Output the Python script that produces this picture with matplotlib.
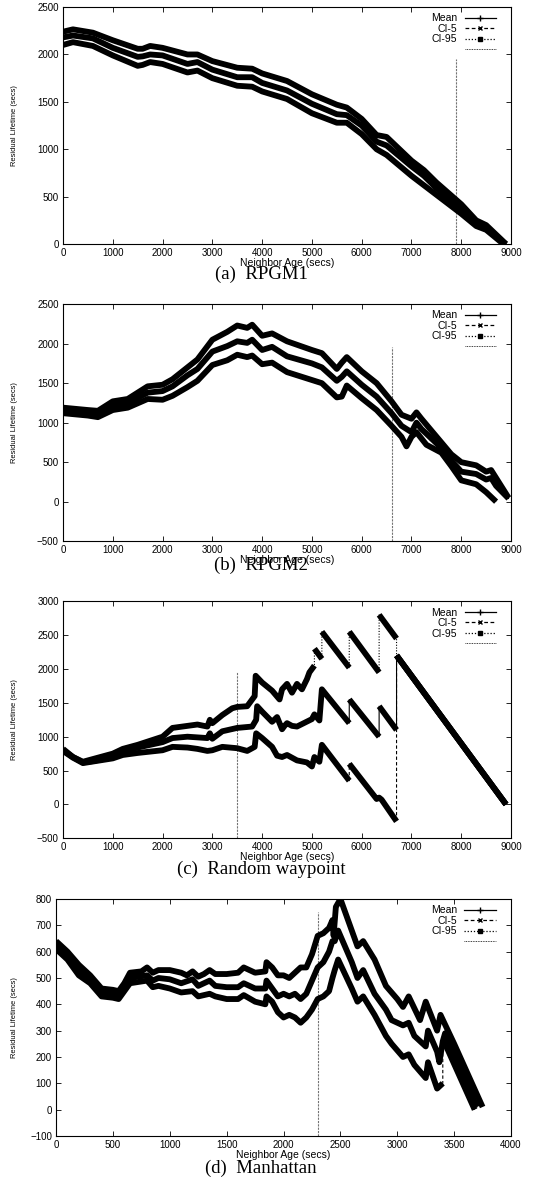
import numpy as np
from matplotlib import pyplot as plt

# ---- (a) RPGM1 ----
a_x_hi = [0, 200, 600, 1000, 1500, 1600, 1750, 2000, 2500, 2700, 3000, 3500, 3800, 4000, 4500, 5000, 5500, 5700, 6000, 6300, 6500, 7000, 7250, 7500, 8000, 8300, 8500, 8800, 8900]
a_y_hi = [2240, 2265, 2230, 2150, 2060, 2060, 2090, 2070, 2000, 2000, 1930, 1860, 1850, 1800, 1720, 1580, 1470, 1440, 1320, 1150, 1130, 880, 780, 650, 420, 250, 200, 50, 0]
a_x_mid = a_x_hi
a_y_mid = [2180, 2200, 2170, 2070, 1975, 1980, 2000, 1990, 1900, 1920, 1840, 1760, 1760, 1700, 1620, 1480, 1370, 1360, 1250, 1080, 1040, 820, 720, 590, 370, 220, 170, 30, 0]
a_x_lo = a_x_hi
a_y_lo = [2100, 2130, 2090, 1990, 1880, 1890, 1920, 1900, 1810, 1830, 1750, 1670, 1660, 1610, 1530, 1380, 1280, 1280, 1160, 1000, 940, 720, 620, 520, 320, 190, 150, 20, 0]
a_vline = 7900

# ---- (b) RPGM2 ----
b_x_hi = [0, 500, 700, 1000, 1300, 1700, 2000, 2200, 2500, 2700, 3000, 3300, 3500, 3700, 3800, 4000, 4200, 4500, 5000, 5200, 5500, 5600, 5700, 6000, 6300, 6600, 6800, 7000, 7100, 7200, 7400, 7600, 7800, 8000, 8300, 8500, 8600, 8700, 8950]
b_y_hi = [1190, 1160, 1150, 1270, 1300, 1460, 1480, 1550, 1700, 1800, 2050, 2150, 2230, 2200, 2240, 2100, 2130, 2030, 1920, 1880, 1680, 1760, 1830, 1650, 1500, 1270, 1100, 1050, 1130, 1050, 900, 750, 600, 500, 460, 380, 400, 300, 50]
b_x_mid = b_x_hi
b_y_mid = [1160, 1120, 1110, 1220, 1250, 1380, 1400, 1460, 1600, 1680, 1900, 1970, 2030, 2010, 2050, 1920, 1960, 1840, 1750, 1700, 1530, 1580, 1650, 1480, 1330, 1120, 960, 880, 1000, 920, 800, 680, 520, 380, 350, 280, 300, 200, 40]
b_x_lo = [0, 500, 700, 1000, 1300, 1700, 2000, 2200, 2500, 2700, 3000, 3300, 3500, 3700, 3800, 4000, 4200, 4500, 5000, 5200, 5500, 5600, 5700, 6000, 6300, 6600, 6800, 6900, 7000, 7100, 7200, 7300, 7600, 7800, 8000, 8300, 8500, 8700]
b_y_lo = [1120, 1090, 1070, 1160, 1190, 1300, 1290, 1340, 1450, 1530, 1730, 1790, 1860, 1830, 1850, 1740, 1760, 1640, 1540, 1500, 1320, 1330, 1470, 1310, 1160, 960, 820, 700, 820, 880, 800, 720, 620, 450, 270, 220, 120, 0]
b_vline = 6600

# ---- (c) Random waypoint ----
c_x_hi = [0, 200, 400, 1000, 1200, 1500, 2000, 2200, 2500, 2700, 2900, 2950, 3000, 3200, 3400, 3500, 3700, 3850, 3870, 4000, 4200, 4350, 4400, 4500, 4600, 4700, 4800, 4900, 4950, 5050, 5050, 5200, 5200, 5750, 5750, 6350, 6350, 6700, 6700, 8900]
c_y_hi = [820, 700, 630, 750, 820, 880, 1000, 1130, 1160, 1180, 1150, 1250, 1200, 1320, 1420, 1440, 1450, 1600, 1900, 1800, 1680, 1550, 1700, 1780, 1650, 1780, 1700, 1850, 1950, 2050, 2300, 2150, 2550, 2020, 2550, 1950, 2800, 2450, 2200, 0]
c_x_mid = [0, 200, 400, 600, 1000, 1200, 1500, 2000, 2200, 2500, 2700, 2900, 2950, 3000, 3200, 3500, 3800, 3880, 3900, 4000, 4200, 4300, 4400, 4450, 4500, 4600, 4700, 5000, 5050, 5150, 5200, 5750, 5750, 6350, 6350, 6700, 6700, 8900]
c_y_mid = [800, 700, 620, 640, 700, 780, 840, 920, 980, 1000, 990, 980, 1050, 970, 1080, 1130, 1150, 1250, 1450, 1370, 1220, 1290, 1110, 1160, 1200, 1160, 1150, 1260, 1330, 1240, 1700, 1200, 1550, 1000, 1450, 1100, 2200, 0]
c_x_lo = [0, 200, 400, 1000, 1200, 1500, 2000, 2200, 2500, 2700, 2900, 3000, 3200, 3500, 3700, 3850, 3880, 4000, 4200, 4300, 4400, 4500, 4700, 4900, 5000, 5050, 5150, 5200, 5750, 5750, 6300, 6350, 6400, 6700, 6700, 8900]
c_y_lo = [790, 690, 610, 680, 730, 760, 800, 850, 840, 820, 790, 800, 850, 830, 790, 850, 1050, 980, 850, 720, 700, 730, 650, 620, 560, 700, 630, 880, 350, 600, 80, 100, 70, -250, 2200, 0]
c_vline = 3500

# ---- (d) Manhattan ----
d_x_hi = [0, 50, 100, 200, 300, 400, 500, 550, 600, 650, 750, 800, 850, 900, 1000, 1100, 1150, 1200, 1250, 1300, 1350, 1400, 1500, 1600, 1650, 1700, 1750, 1840, 1850, 1900, 1950, 2000, 2050, 2100, 2150, 2200, 2250, 2300, 2350, 2400, 2430, 2440, 2460, 2500, 2600, 2650, 2700, 2800, 2900, 3000, 3050, 3100, 3200, 3250, 3350, 3380, 3500, 3750]
d_y_hi = [640, 620, 600, 550, 510, 460, 455, 450, 480, 520, 525, 540, 520, 530, 530, 520, 510, 525, 505, 515, 530, 515, 515, 520, 540, 530, 520, 525, 560, 540, 510, 510, 500, 520, 540, 540, 590, 660, 670, 690, 720, 660, 770, 800, 680, 620, 640, 570, 470, 420, 390, 430, 340, 410, 300, 360, 250, 10]
d_x_mid = [0, 100, 200, 300, 400, 500, 550, 600, 650, 800, 850, 900, 1000, 1100, 1200, 1250, 1350, 1400, 1500, 1600, 1650, 1750, 1840, 1850, 1900, 1950, 2000, 2050, 2100, 2150, 2200, 2250, 2300, 2350, 2400, 2430, 2450, 2480, 2600, 2650, 2700, 2800, 2900, 2950, 3050, 3100, 3150, 3250, 3270, 3350, 3370, 3400, 3420, 3700]
d_y_mid = [620, 580, 530, 500, 440, 440, 430, 460, 500, 510, 490, 500, 495, 480, 495, 470, 490, 470, 465, 465, 480, 460, 460, 490, 460, 430, 440, 430, 440, 420, 440, 490, 540, 560, 600, 640, 640, 680, 560, 500, 530, 440, 380, 340, 320, 330, 280, 240, 300, 220, 180, 260, 290, 10]
d_x_lo = [0, 100, 200, 300, 400, 500, 550, 600, 650, 800, 850, 900, 1000, 1100, 1200, 1250, 1350, 1400, 1500, 1600, 1650, 1750, 1840, 1850, 1900, 1950, 2000, 2050, 2100, 2150, 2200, 2250, 2300, 2350, 2400, 2430, 2450, 2480, 2600, 2650, 2700, 2800, 2900, 2950, 3050, 3100, 3150, 3250, 3270, 3350, 3400, 3400, 3420, 3680]
d_y_lo = [610, 570, 510, 480, 430, 425, 420, 450, 480, 490, 465, 470, 460, 445, 450, 430, 440, 430, 420, 420, 435, 410, 400, 430, 410, 370, 350, 360, 350, 330, 350, 380, 420, 430, 450, 500, 530, 570, 460, 410, 430, 360, 280, 250, 200, 210, 170, 120, 180, 80, 100, 260, 250, 0]
d_vline = 2300

panels = [
    dict(title="(a)  RPGM1", hi=(a_x_hi, a_y_hi), mid=(a_x_mid, a_y_mid), lo=(a_x_lo, a_y_lo),
         vline=a_vline, vtop=1950, xlim=(0, 9000), xstep=1000, ylim=(0, 2500), ystep=500),
    dict(title="(b)  RPGM2", hi=(b_x_hi, b_y_hi), mid=(b_x_mid, b_y_mid), lo=(b_x_lo, b_y_lo),
         vline=b_vline, vtop=1960, xlim=(0, 9000), xstep=1000, ylim=(-500, 2500), ystep=500),
    dict(title="(c)  Random waypoint", hi=(c_x_hi, c_y_hi), mid=(c_x_mid, c_y_mid), lo=(c_x_lo, c_y_lo),
         vline=c_vline, vtop=1950, xlim=(0, 9000), xstep=1000, ylim=(-500, 3000), ystep=500),
    dict(title="(d)  Manhattan", hi=(d_x_hi, d_y_hi), mid=(d_x_mid, d_y_mid), lo=(d_x_lo, d_y_lo),
         vline=d_vline, vtop=750, xlim=(0, 4000), xstep=500, ylim=(-100, 800), ystep=100),
]

# axes boxes in figure fraction [left, bottom, width, height]
boxes = [
    [0.118, 0.793, 0.839, 0.201],
    [0.118, 0.541, 0.839, 0.201],
    [0.118, 0.289, 0.839, 0.201],
    [0.105, 0.0365, 0.852, 0.201],
]
caption_y = [1 - 274 / 1179, 1 - 565 / 1179, 1 - 869 / 1179, 1 - 1168 / 1179]

plt.rcParams['font.family'] = ['Liberation Sans', 'DejaVu Sans']
TICK_FS = 7


def draw_band(ax, xs, ys, ls, marker, ms, label):
    """Thin styled line through all points plus a thick band on each run (jumps stay thin)."""
    xs = np.asarray(xs, float)
    ys = np.asarray(ys, float)
    ax.plot(xs, ys, color='black', lw=0.8, ls=ls, zorder=2)
    # split where x repeats (vertical jump)
    cuts = np.where(np.diff(xs) == 0)[0] + 1
    for seg_x, seg_y in zip(np.split(xs, cuts), np.split(ys, cuts)):
        ax.plot(seg_x, seg_y, color='black', lw=4.2, solid_capstyle='butt',
                solid_joinstyle='round', zorder=3)
    # proxy for the legend
    ax.plot([], [], color='black', lw=0.9, ls=ls, marker=marker, ms=ms, label=label)


fig = plt.figure(figsize=(5.34, 11.79), dpi=100)

for p, box, cy in zip(panels, boxes, caption_y):
    ax = fig.add_axes(box)
    draw_band(ax, *p['mid'], ls='-', marker='+', ms=4, label='Mean')
    draw_band(ax, *p['lo'], ls=(0, (3, 2)), marker='x', ms=3, label='CI-5')
    draw_band(ax, *p['hi'], ls=(0, (1, 1.5)), marker='s', ms=2.5, label='CI-95')
    ax.vlines(p['vline'], p['ylim'][0], p['vtop'], colors='0.45', lw=0.8,
              linestyles=(0, (2, 1)), zorder=1)
    ax.plot([], [], color='black', lw=0.6, ls=(0, (1, 1)), label=' ')

    ax.set_xlim(*p['xlim'])
    ax.set_ylim(*p['ylim'])
    ax.set_xticks(np.arange(p['xlim'][0], p['xlim'][1] + 1, p['xstep']))
    ax.set_yticks(np.arange(p['ylim'][0], p['ylim'][1] + 1, p['ystep']))
    ax.tick_params(direction='in', top=True, right=True, length=3.5, width=0.6,
                   labelsize=TICK_FS, pad=3)
    for s in ax.spines.values():
        s.set_linewidth(0.8)
    for lab in ax.get_xticklabels():
        lab.set_clip_on(False)

    ax.set_xlabel('Neighbor Age (secs)', fontsize=7.5)
    ax.set_ylabel('Residual Lifetime (secs)', fontsize=5.4)
    ax.xaxis.set_label_coords(0.5, -0.058)
    ax.yaxis.set_label_coords((18 - box[0] * 534) / (box[2] * 534), 0.5)

    ax.legend(loc='upper right', frameon=False, markerfirst=False, fontsize=7.5,
              handlelength=3.0, handletextpad=0.7, labelspacing=0.05,
              borderaxespad=0.2, bbox_to_anchor=(0.98, 1.0))

    fig.text(0.489, cy, p['title'], ha='center', va='center',
             fontsize=13.5, family=['Liberation Serif', 'DejaVu Serif'])

fig.savefig('out.png', dpi=100)
